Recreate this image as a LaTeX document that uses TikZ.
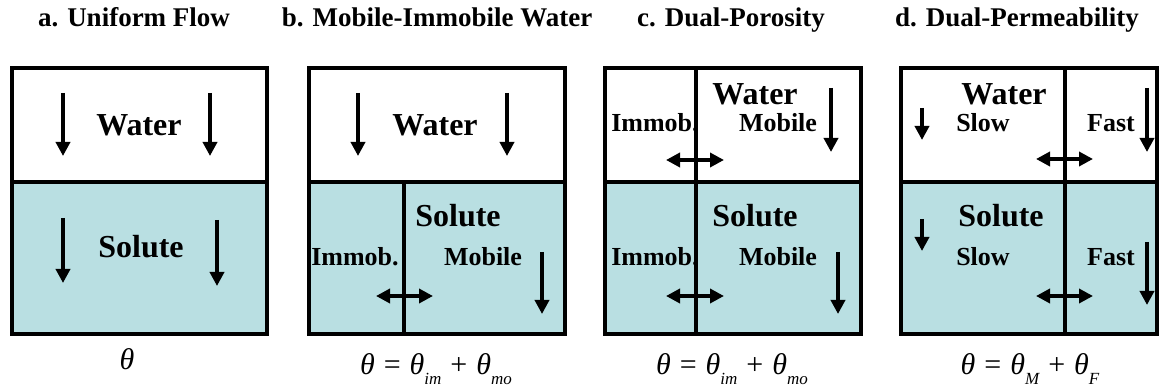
\documentclass[tikz,border=0pt]{standalone}
\usepackage{fontspec}
\setmainfont{Liberation Serif}
\usetikzlibrary{arrows.meta}
\definecolor{solute}{RGB}{185,223,226}
\newcommand\sbx[1]{\raisebox{-0.36em}{\fontsize{17}{17}\selectfont\itshape #1}}
\newcommand\gap{\hspace{0.3em}}
\tikzset{
  box/.style={line width=4pt, line join=miter},
  flow/.style={line width=3.6pt, -{Triangle[length=14pt,width=14pt]}},
  swap/.style={line width=3.6pt, {Triangle[length=14pt,width=14pt]}-{Triangle[length=14pt,width=14pt]}},
  big/.style={font=\bfseries\fontsize{32}{32}\selectfont, anchor=base, inner sep=0pt},
  small/.style={font=\bfseries\fontsize{26}{26}\selectfont, anchor=base, inner sep=0pt},
  ttl/.style={font=\bfseries\fontsize{27}{27}\selectfont, anchor=base, inner sep=0pt},
  eq/.style={font=\fontsize{30}{30}\selectfont, anchor=base, inner sep=0pt},
}
\begin{document}
\begin{tikzpicture}[x=1pt,y=-1pt]
\useasboundingbox (0,0) rectangle (1160,390);
% fills
\fill[solute] (12,182) rectangle (267,334);
\fill[solute] (309,182) rectangle (565,334);
\fill[solute] (605,182) rectangle (861,334);
\fill[solute] (901,182) rectangle (1157,334);
% titles
\node[ttl] (ta) at (134,27) {a. Uniform Flow};
\node[ttl] (tb) at (437,27) {b. Mobile-Immobile Water};
\node[ttl] (tc) at (731,27) {c. Dual-Porosity};
\node[ttl] (td) at (1017,27) {d. Dual-Permeability};
% panel a
\node[big] (wa) at (139,136) {Water};
\node[big] (sa) at (141,258) {Solute};
\draw[flow] (63,93) -- (63,156);
\draw[flow] (210,93) -- (210,156);
\draw[flow] (63,218) -- (63,283);
\draw[flow] (217,220) -- (217,286);
\draw[box] (12,68) rectangle (267,334);
\draw[box] (12,182) -- (267,182);
\node[eq] (fa) at (127,369) {\itshape θ};
% panel b
\node[big] (wb) at (435,136) {Water};
\node[big] (sb) at (458,227) {Solute};
\node[small] (ib) at (355,266) {Immob.};
\node[small] (mb) at (483,266) {Mobile};
\draw[flow] (358,93) -- (358,156);
\draw[flow] (507,93) -- (507,156);
\draw[flow] (542,252) -- (542,314);
\draw[swap] (376,296) -- (433,296);
\draw[box] (309,68) rectangle (565,334);
\draw[box] (309,182) -- (565,182);
\draw[box] (404,182) -- (404,334);
\node[eq] (fb) at (436,374) {\itshape θ\gap\upshape=\gap\itshape θ\sbx{im}\gap\upshape+\gap\itshape θ\sbx{mo}};
% panel c
\node[big] (wc) at (755,105) {Water};
\node[small] (ic1) at (655,132) {Immob.};
\node[small] (mc1) at (778,132) {Mobile};
\node[big] (sc) at (755,227) {Solute};
\node[small] (ic2) at (655,266) {Immob.};
\node[small] (mc2) at (778,266) {Mobile};
\draw[flow] (831,88) -- (831,152);
\draw[swap] (666,160) -- (724,160);
\draw[flow] (838,252) -- (838,314);
\draw[swap] (666,296) -- (724,296);
\draw[box] (605,68) rectangle (861,334);
\draw[box] (605,182) -- (861,182);
\draw[box] (696,68) -- (696,334);
\node[eq] (fc) at (732,374) {\itshape θ\gap\upshape=\gap\itshape θ\sbx{im}\gap\upshape+\gap\itshape θ\sbx{mo}};
% panel d
\node[big] (wd) at (1004,105) {Water};
\node[small] (sd1) at (983,132) {Slow};
\node[small] (fd1) at (1111,132) {Fast};
\node[big] (sd) at (1001,227) {Solute};
\node[small] (sd2) at (983,266) {Slow};
\node[small] (fd2) at (1111,266) {Fast};
\draw[flow] (922,108) -- (922,140);
\draw[flow] (1147,88) -- (1147,152);
\draw[swap] (1036,159) -- (1093,159);
\draw[flow] (922,219) -- (922,251);
\draw[flow] (1147,242) -- (1147,305);
\draw[swap] (1036,296) -- (1093,296);
\draw[box] (901,68) rectangle (1157,334);
\draw[box] (901,182) -- (1157,182);
\draw[box] (1065,68) -- (1065,334);
\node[eq] (fd) at (1030,374) {\itshape θ\gap\upshape=\gap\itshape θ\sbx{M}\gap\upshape+\gap\itshape θ\sbx{F}};
\end{tikzpicture}
\end{document}
